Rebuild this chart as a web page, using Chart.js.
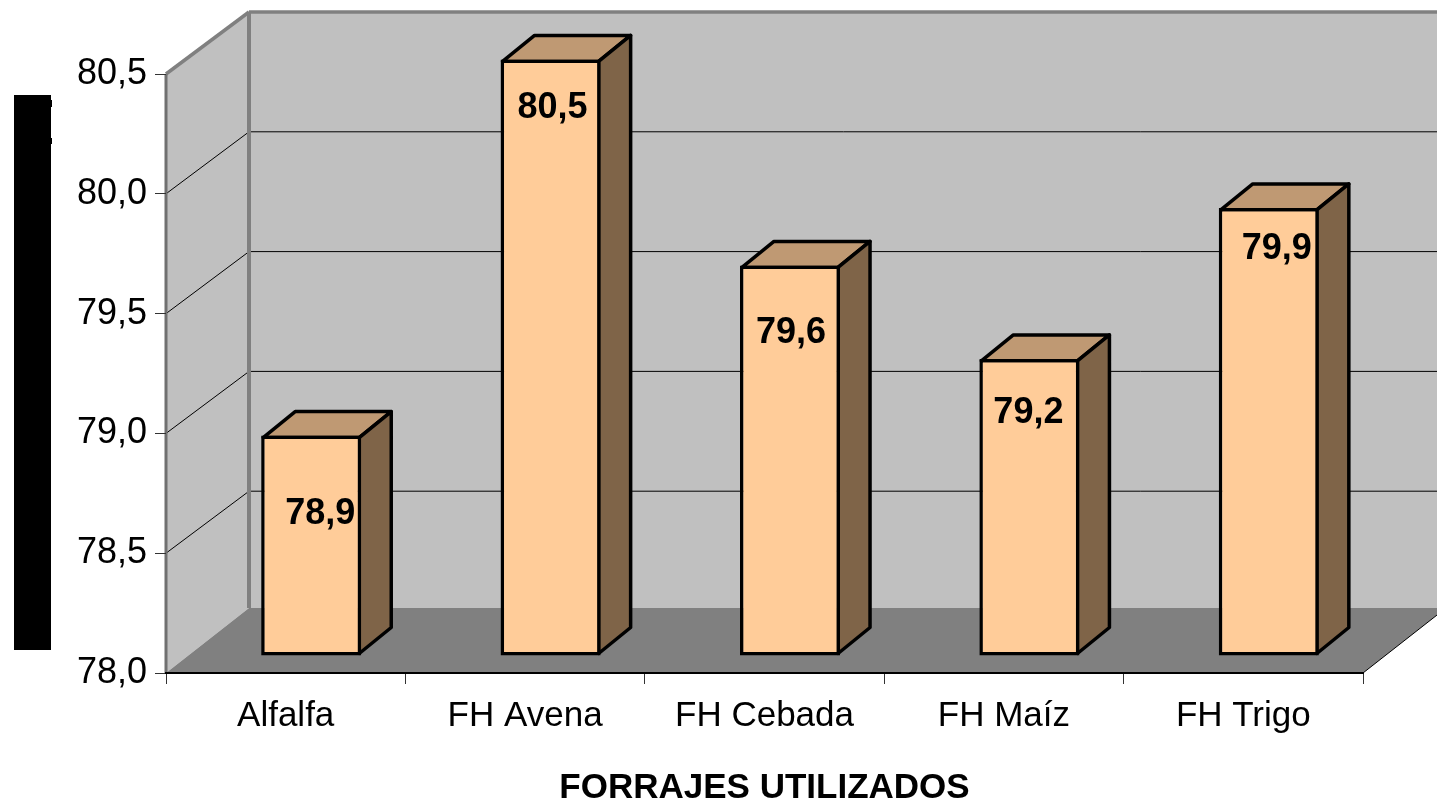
<!DOCTYPE html>
<html>
<head>
<meta charset="utf-8">
<style>html,body{margin:0;padding:0;background:#fff}#w{width:1437px;height:803px;position:relative}</style>
<script src="https://cdn.jsdelivr.net/npm/chart.js@4/dist/chart.umd.min.js"></script>
</head>
<body>
<div id="w"><canvas id="c" width="1437" height="803"></canvas></div>
<script>
const categories = ['Alfalfa', 'FH Avena', 'FH Cebada', 'FH Maíz', 'FH Trigo'];
const values = [78.92, 80.49, 79.63, 79.24, 79.87];
const xTitle = 'FORRAJES UTILIZADOS';
const yMin = 78.0, yMax = 80.5, yStep = 0.5;

const FONT = '"Liberation Sans", Arial, sans-serif';
const fmt = v => v.toFixed(1).replace('.', ',');
const WALL = {dx: 83, dy: 62};       // depth of the plot box
const SHIFT = {x: 25.5, y: -17};     // bars stand inside the box
const BAR = {dx: 32, dy: 26};        // depth of each bar
const labelOffX = [9, 2, 1, -1, 8];
const labelOffY = [79, 49, 68, 54, 41];

function poly(ctx, pts, fill, stroke, lw) {
  ctx.beginPath();
  pts.forEach((p, i) => i ? ctx.lineTo(p[0], p[1]) : ctx.moveTo(p[0], p[1]));
  ctx.closePath();
  if (fill) { ctx.fillStyle = fill; ctx.fill(); }
  if (stroke) { ctx.strokeStyle = stroke; ctx.lineWidth = lw; ctx.lineJoin = 'round'; ctx.stroke(); }
}
function line(ctx, a, b, color, lw) {
  ctx.beginPath(); ctx.moveTo(a[0], a[1]); ctx.lineTo(b[0], b[1]);
  ctx.strokeStyle = color; ctx.lineWidth = lw; ctx.stroke();
}

const box3d = {
  id: 'box3d',
  beforeDraw(chart) {
    const {ctx, chartArea: a, scales: {y}} = chart;
    const {dx, dy} = WALL;
    const R = chart.width + 20;
    ctx.save();
    // y axis title block
    ctx.fillStyle = '#000';
    ctx.fillRect(14, 95, 37, 555);
    ctx.fillRect(51, 100, 1, 7);
    ctx.fillRect(51, 138, 1, 6);
    // walls
    poly(ctx, [[a.left, a.top], [a.left + dx, a.top - dy], [a.left + dx, a.bottom - dy - 3], [a.left, a.bottom]], '#c0c0c0');
    poly(ctx, [[a.left + dx, a.top - dy], [R, a.top - dy], [R, a.bottom - dy - 3], [a.left + dx, a.bottom - dy - 3]], '#c0c0c0');
    // floor
    poly(ctx, [[a.left, a.bottom], [a.left + dx, a.bottom - dy - 3], [R, a.bottom - dy - 3], [a.right + dx, a.bottom - dy - 3], [a.right, a.bottom]], '#808080');
    // wall grid lines from the axis ticks
    y.ticks.forEach(t => {
      if (t.value === yMin || t.value === yMax) return;
      const p = y.getPixelForValue(t.value);
      line(ctx, [a.left, p], [a.left + dx, p - dy], '#000', 1);
      line(ctx, [a.left + dx, p - dy], [R, p - dy], '#000', 1);
    });
    // wall frame
    line(ctx, [a.left, a.top], [a.left + dx, a.top - dy], '#808080', 3.5);
    line(ctx, [a.left + dx, a.top - dy], [R, a.top - dy], '#808080', 3.5);
    line(ctx, [a.left + dx, a.top - dy], [a.left + dx, a.bottom - dy - 3], '#808080', 4);
    line(ctx, [a.left, a.top], [a.left, a.bottom], '#707070', 3);
    line(ctx, [a.right, a.bottom], [a.right + dx, a.bottom - dy - 3], '#000', 1);
    ctx.restore();
  },
  beforeDatasetsDraw(chart) {
    const ctx = chart.ctx;
    ctx.save();
    ctx.translate(SHIFT.x, SHIFT.y);
    chart.getDatasetMeta(0).data.forEach(el => {
      const {x, y, base, width} = el.getProps(['x', 'y', 'base', 'width'], true);
      const l = x - width / 2 + 2, r = x + width / 2 - 2, t = y + 2, b = base - 2;
      poly(ctx, [[l, t], [l + BAR.dx, t - BAR.dy], [r + BAR.dx, t - BAR.dy], [r, t]], '#bf9973', '#000', 3.5);
      poly(ctx, [[r, t], [r + BAR.dx, t - BAR.dy], [r + BAR.dx, b - BAR.dy], [r, b]], '#7f6448', '#000', 3.5);
    });
  },
  afterDatasetsDraw(chart) {
    const ctx = chart.ctx;
    chart.getDatasetMeta(0).data.forEach((el, i) => {
      const {x, y} = el.getProps(['x', 'y'], true);
      ctx.fillStyle = '#000';
      ctx.font = 'bold 36px ' + FONT;
      ctx.textAlign = 'center';
      ctx.textBaseline = 'middle';
      ctx.fillText(fmt(values[i]), x + labelOffX[i], y + labelOffY[i]);
    });
    ctx.restore();
  }
};

new Chart(document.getElementById('c'), {
  type: 'bar',
  data: {
    labels: categories,
    datasets: [{
      data: values,
      base: yMin,
      backgroundColor: '#ffcc99',
      borderColor: '#000',
      borderWidth: 3.5,
      borderSkipped: false,
      barPercentage: 0.418,
      categoryPercentage: 1,
      clip: false
    }]
  },
  plugins: [box3d],
  options: {
    responsive: false,
    animation: false,
    events: [],
    layout: {padding: {left: 0, right: 74, top: 74, bottom: 0}},
    plugins: {legend: {display: false}, tooltip: {enabled: false}},
    scales: {
      x: {
        afterFit(s) { s.height = 130; },
        grid: {display: true, drawOnChartArea: false, offset: true, tickLength: 11, color: '#333', lineWidth: 1},
        border: {display: true, color: '#000', width: 2},
        ticks: {color: '#000', font: {family: FONT, size: 35}, padding: 11, maxRotation: 0, autoSkip: false},
        title: {display: true, text: xTitle, color: '#000', font: {family: FONT, size: 35, weight: 'bold'}, padding: {top: 0, bottom: -6}}
      },
      y: {
        min: yMin, max: yMax,
        afterFit(s) { s.width = 166; },
        grid: {display: true, drawOnChartArea: false, tickLength: 11, color: '#333', lineWidth: 1},
        border: {display: false},
        ticks: {stepSize: yStep, color: '#000', font: {family: FONT, size: 36}, padding: 8, callback: v => fmt(v)}
      }
    }
  }
});
</script>
</body>
</html>
